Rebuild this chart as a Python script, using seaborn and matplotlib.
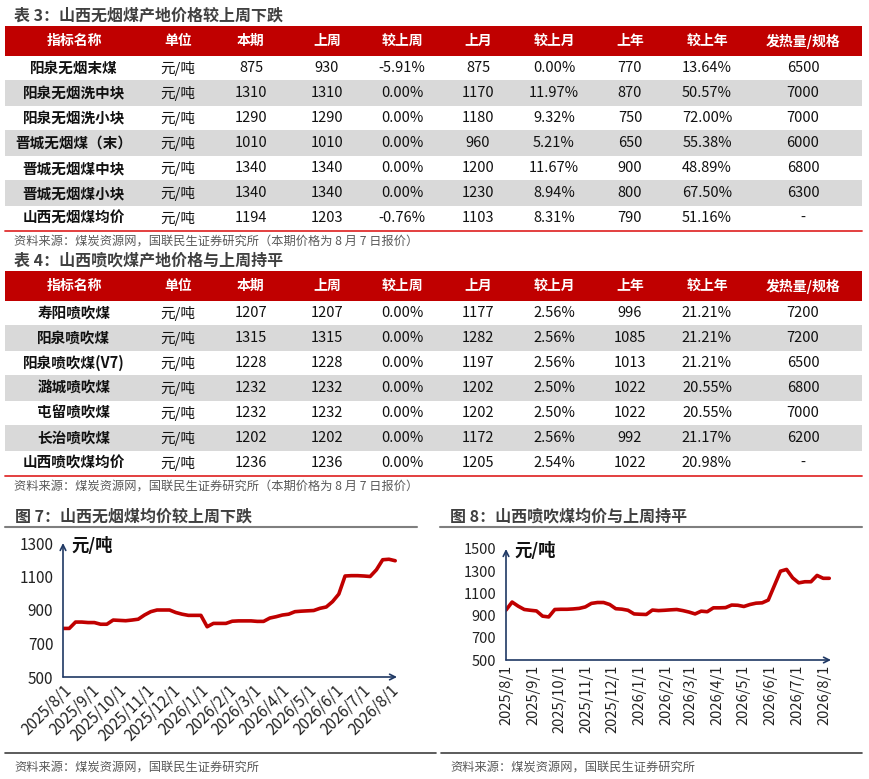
import matplotlib
matplotlib.use("Agg")
import matplotlib.pyplot as plt
import matplotlib.dates as mdates
from matplotlib.patches import Rectangle
import seaborn as sns
import pandas as pd

# ---- table 3 data (anthracite) ----
t3_names = ["阳泉无烟末煤", "阳泉无烟洗中块", "阳泉无烟洗小块", "晋城无烟煤（末）",
            "晋城无烟煤中块", "晋城无烟煤小块", "山西无烟煤均价"]
t3_cur = [875, 1310, 1290, 1010, 1340, 1340, 1194]
t3_last_week = [930, 1310, 1290, 1010, 1340, 1340, 1203]
t3_wow = [-5.91, 0.00, 0.00, 0.00, 0.00, 0.00, -0.76]
t3_last_month = [875, 1170, 1180, 960, 1200, 1230, 1103]
t3_mom = [0.00, 11.97, 9.32, 5.21, 11.67, 8.94, 8.31]
t3_last_year = [770, 870, 750, 650, 900, 800, 790]
t3_yoy = [13.64, 50.57, 72.00, 55.38, 48.89, 67.50, 51.16]
t3_spec = [6500, 7000, 7000, 6000, 6800, 6300, None]

# ---- table 4 data (PCI coal) ----
t4_names = ["寿阳喷吹煤", "阳泉喷吹煤", "阳泉喷吹煤(V7)", "潞城喷吹煤",
            "屯留喷吹煤", "长治喷吹煤", "山西喷吹煤均价"]
t4_cur = [1207, 1315, 1228, 1232, 1232, 1202, 1236]
t4_last_week = [1207, 1315, 1228, 1232, 1232, 1202, 1236]
t4_wow = [0.00, 0.00, 0.00, 0.00, 0.00, 0.00, 0.00]
t4_last_month = [1177, 1282, 1197, 1202, 1202, 1172, 1205]
t4_mom = [2.56, 2.56, 2.56, 2.50, 2.50, 2.56, 2.54]
t4_last_year = [996, 1085, 1013, 1022, 1022, 992, 1022]
t4_yoy = [21.21, 21.21, 21.21, 20.55, 20.55, 21.17, 20.98]
t4_spec = [7200, 7200, 6500, 6800, 7000, 6200, None]

headers = ["指标名称", "单位", "本期", "上周", "较上周", "上月", "较上月", "上年", "较上年", "发热量/规格"]
unit = "元/吨"

# ---- weekly average prices, 2025/8/1 .. 2026/8/7 ----
anthracite_avg = [790, 790, 828, 828, 825, 825, 815, 815, 840, 838,
                  836, 840, 845, 870, 890, 900, 900, 900, 885, 875,
                  868, 868, 868, 800, 820, 820, 820, 833, 835, 835,
                  835, 832, 832, 852, 860, 870, 875, 890, 893, 895,
                  897, 910, 918, 950, 995, 1103, 1105, 1105, 1103, 1100,
                  1140, 1200, 1203, 1194]
pci_avg = [950, 1022, 985, 955, 948, 942, 895, 888, 955, 957,
           957, 960, 965, 978, 1010, 1018, 1018, 1000, 962, 958,
           948, 915, 912, 910, 950, 945, 948, 952, 955, 945,
           932, 915, 940, 935, 970, 970, 972, 995, 993, 982,
           1000, 1012, 1015, 1040, 1170, 1300, 1316, 1240, 1195, 1205,
           1205, 1262, 1236, 1236]
weeks = pd.date_range("2025-08-01", "2026-08-07", freq="7D")
month_ticks = pd.date_range("2025-08-01", "2026-08-01", freq="MS")

sns.set_style("white")
plt.rcParams["font.family"] = ["Noto Sans CJK SC", "DejaVu Sans"]

W, H = 869, 779
RED = "#C00000"
GREY_ROW = "#D9D9D9"
TITLE_C = "#404040"
SRC_C = "#595959"
NAVY = "#1F3864"

fig = plt.figure(figsize=(W / 100, H / 100), dpi=100)
bg = fig.add_axes([0, 0, 1, 1])
bg.set_xlim(0, W)
bg.set_ylim(H, 0)
bg.axis("off")

col_x = [74, 178, 251, 327, 402, 478, 554, 630, 707, 803]
TL, TR = 5, 862


def pct(v):
    return f"{v:.2f}%"


def draw_table(title, hdr_top, row_edges, names, cur, lw, wow, lm, mom, ly, yoy, spec, source):
    bg.text(14, hdr_top - 10, title, fontsize=11.5, fontweight="bold", color=TITLE_C, va="center")
    hdr_bot = row_edges[0]
    bg.add_patch(Rectangle((TL, hdr_top), TR - TL, hdr_bot - hdr_top, color=RED, lw=0))
    for x, h in zip(col_x, headers):
        bg.text(x, (hdr_top + hdr_bot) / 2, h, fontsize=10, fontweight="bold",
                color="white", ha="center", va="center")
    for i in range(len(names)):
        y0, y1 = row_edges[i], row_edges[i + 1]
        if i % 2 == 1:
            bg.add_patch(Rectangle((TL, y0), TR - TL, y1 - y0, color=GREY_ROW, lw=0))
        yc = (y0 + y1) / 2
        cells = [names[i], unit, str(cur[i]), str(lw[i]), pct(wow[i]), str(lm[i]),
                 pct(mom[i]), str(ly[i]), pct(yoy[i]), "-" if spec[i] is None else str(spec[i])]
        for j, (x, c) in enumerate(zip(col_x, cells)):
            bg.text(x, yc, c, fontsize=10.5, fontweight="bold" if j == 0 else "normal",
                    color="#111111", ha="center", va="center")
    bg.plot([TL, TR], [row_edges[-1] + 1, row_edges[-1] + 1], color="#E03030", lw=1.3)
    bg.text(14, row_edges[-1] + 11, source, fontsize=8.8, color=SRC_C, va="center")


src_tab = "资料来源：煤炭资源网，国联民生证券研究所（本期价格为 8 月 7 日报价）"
draw_table("表 3：山西无烟煤产地价格较上周下跌", 26,
           [56, 80, 106, 130, 156, 180, 206, 230],
           t3_names, t3_cur, t3_last_week, t3_wow, t3_last_month, t3_mom,
           t3_last_year, t3_yoy, t3_spec, src_tab)
draw_table("表 4：山西喷吹煤产地价格与上周持平", 271,
           [301, 325, 351, 375, 401, 425, 451, 475],
           t4_names, t4_cur, t4_last_week, t4_wow, t4_last_month, t4_mom,
           t4_last_year, t4_yoy, t4_spec, src_tab)

# chart frames
src_fig = "资料来源：煤炭资源网，国联民生证券研究所"
for x0, x1, xt, title in [(5, 417, 15, "图 7：山西无烟煤均价较上周下跌"),
                          (440, 862, 450, "图 8：山西喷吹煤均价与上周持平")]:
    bg.text(xt, 517, title, fontsize=11.5, fontweight="bold", color=TITLE_C, va="center")
    bg.plot([x0, x1], [527, 527], color="#7F7F7F", lw=1.5)
for x0, x1, xt in [(5, 436, 14), (441, 862, 450)]:
    bg.plot([x0, x1], [753, 753], color="#404040", lw=1.2)
    bg.text(xt, 767, src_fig, fontsize=8.8, color=SRC_C, va="center")


def line_chart(rect, values, ylim, yticks, rot, lsize):
    ax = fig.add_axes([rect[0] / W, 1 - rect[3] / H, (rect[2] - rect[0]) / W, (rect[3] - rect[1]) / H])
    df = pd.DataFrame({"date": weeks, "price": values})
    sns.lineplot(data=df, x="date", y="price", ax=ax, color=RED, lw=2.6)
    ax.set_xlim(pd.Timestamp("2025-08-01"), pd.Timestamp("2026-08-09"))
    ax.set_ylim(*ylim)
    ax.set_yticks(yticks)
    ax.set_xticks(month_ticks)
    ax.xaxis.set_major_formatter(mdates.DateFormatter("%Y/%-m/%-d"))
    ax.set_xlabel("")
    ax.set_ylabel("")
    for s in ax.spines.values():
        s.set_visible(False)
    ax.set_facecolor("none")
    ax.tick_params(length=0, labelsize=lsize, colors="#222222")
    ax.tick_params(axis="y", pad=7)
    if rot == 45:
        for lab in ax.get_xticklabels():
            lab.set_rotation(45)
            lab.set_ha("right")
            lab.set_rotation_mode("anchor")
    else:
        for lab in ax.get_xticklabels():
            lab.set_rotation(90)
            lab.set_ha("center")
    arrow = dict(arrowstyle="->", color=NAVY, lw=1.2, shrinkA=0, shrinkB=0)
    ax.annotate("", xy=(1.0, 0), xytext=(0, 0), xycoords="axes fraction", arrowprops=arrow)
    ax.annotate("", xy=(0, 1.0), xytext=(0, 0), xycoords="axes fraction", arrowprops=arrow)
    ax.text(0.025, 0.98, "元/吨", transform=ax.transAxes, fontsize=12.5, fontweight="bold",
            color="#111111", va="center", ha="left")
    return ax


line_chart((63, 543, 397, 677), anthracite_avg, (500, 1300), [500, 700, 900, 1100, 1300], 45, 11)
line_chart((506, 549, 831, 660), pci_avg, (500, 1500), [500, 700, 900, 1100, 1300, 1500], 90, 10.5)

fig.savefig("out.png", dpi=100)
